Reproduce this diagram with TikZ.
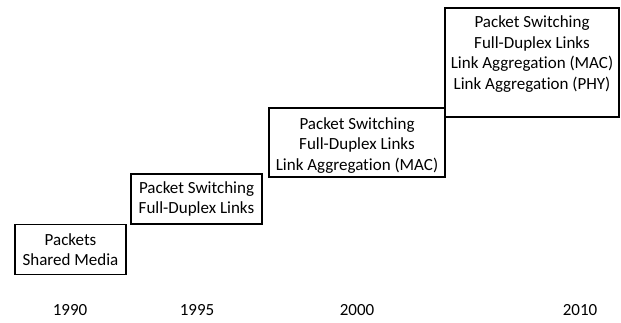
\documentclass[tikz,border=0pt]{standalone}
\usepackage{fontspec}
\setmainfont[Ligatures=NoCommon]{Carlito}
\begin{document}
\begin{tikzpicture}[x=1pt,y=-1pt,
  era/.style={draw=black,line width=1.6pt,align=center,inner sep=0pt,font=\fontsize{17}{20.5}\selectfont},
  txt/.style={align=center,inner sep=0pt,font=\fontsize{17}{20.5}\selectfont},
  yr/.style={font=\fontsize{17}{20.5}\selectfont,inner sep=0pt}]
\useasboundingbox (0,0) rectangle (621,322);
\node[era,minimum width=111,minimum height=50] (b1) at (70.5,249.5) {Packets\\Shared Media};
\node[era,minimum width=131,minimum height=50] (b2) at (196.5,199) {Packet Switching\\Full-Duplex Links};
\node[era,minimum width=176,minimum height=69] (b3) at (357,142.5) {};
\node[txt] (t3) at (357,145.5) {Packet Switching\\Full-Duplex Links\\Link Aggregation (MAC)};
\node[era,minimum width=174,minimum height=109] (b4) at (532,62.5) {};
\node[txt] (t4) at (532,54) {Packet Switching\\Full-Duplex Links\\Link Aggregation (MAC)\\Link Aggregation (PHY)};
\node[yr] (y1) at (70,310) {1990};
\node[yr] (y2) at (197,310) {1995};
\node[yr] (y3) at (357,310) {2000};
\node[yr] (y4) at (580,310) {2010};
\end{tikzpicture}
\end{document}
